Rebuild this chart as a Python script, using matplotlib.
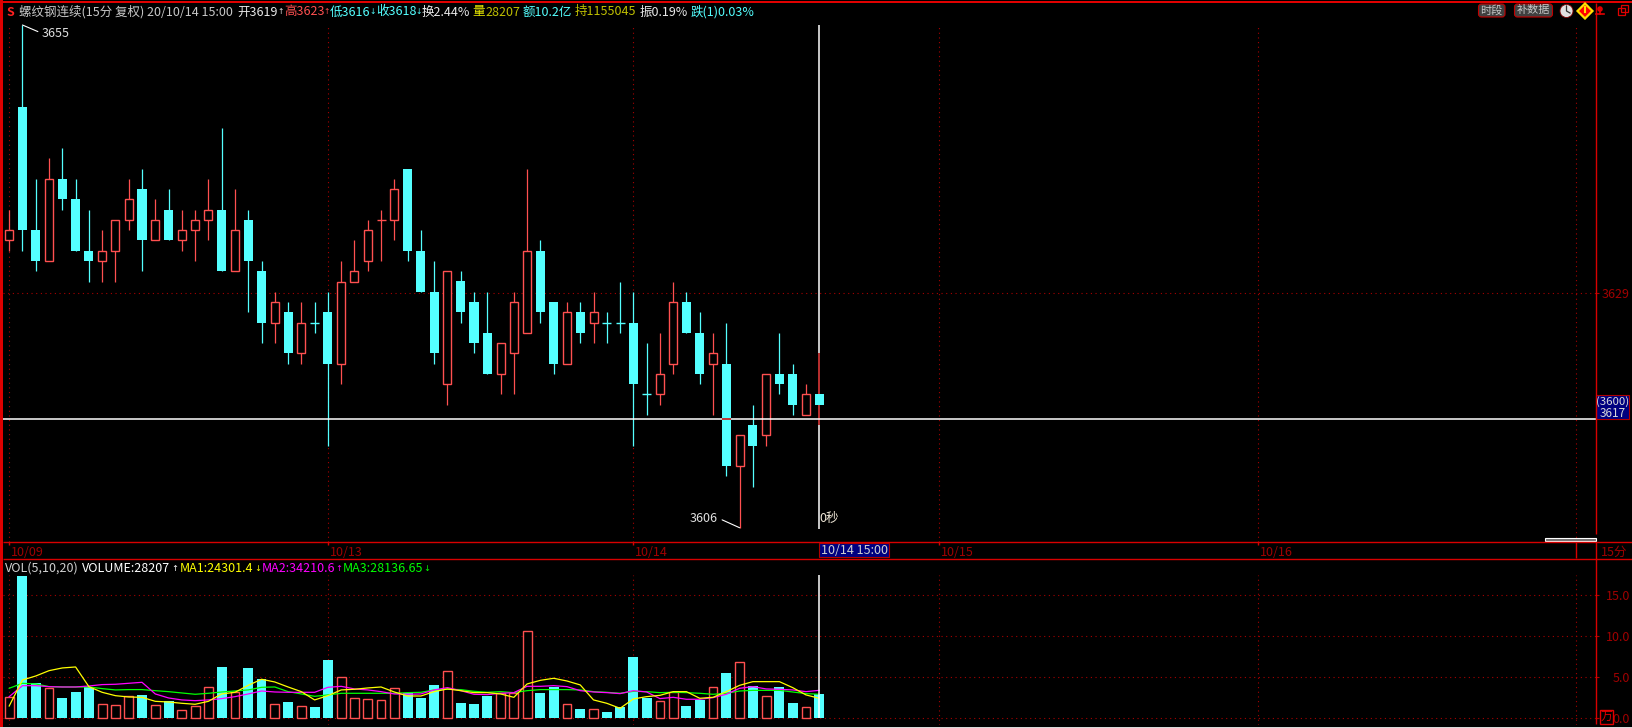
from matplotlib import pyplot as plt
from matplotlib.patches import Rectangle, FancyBboxPatch, Polygon, Circle

# candles, oldest first
opens = [3634, 3647, 3635, 3632, 3640, 3638, 3633, 3632, 3633, 3636,
         3639, 3634, 3637, 3634, 3635, 3636, 3637, 3631, 3636, 3631,
         3626, 3627, 3623, 3626, 3627, 3622, 3630, 3632, 3636, 3636,
         3641, 3633, 3629, 3620, 3630, 3628, 3625, 3621, 3623, 3625,
         3633, 3628, 3622, 3627, 3626, 3626, 3626, 3626, 3619, 3619,
         3622, 3628, 3625, 3622, 3622, 3612, 3616, 3615, 3621, 3621,
         3617, 3619]
closes = [3635, 3635, 3632, 3640, 3638, 3633, 3632, 3633, 3636, 3638,
          3634, 3636, 3634, 3635, 3636, 3637, 3631, 3635, 3632, 3626,
          3628, 3623, 3626, 3626, 3622, 3630, 3631, 3635, 3636, 3639,
          3633, 3629, 3623, 3631, 3627, 3624, 3621, 3624, 3628, 3633,
          3627, 3622, 3627, 3625, 3627, 3626, 3626, 3620, 3619, 3621,
          3628, 3625, 3621, 3623, 3612, 3615, 3614, 3621, 3620, 3618,
          3619, 3618]
highs = [3637, 3655, 3640, 3642, 3643, 3640, 3637, 3635, 3636, 3640,
         3641, 3638, 3639, 3637, 3637, 3640, 3645, 3639, 3637, 3632,
         3629, 3628, 3628, 3628, 3629, 3632, 3634, 3636, 3637, 3640,
         3641, 3635, 3632, 3631, 3631, 3629, 3629, 3624, 3629, 3641,
         3634, 3628, 3628, 3628, 3629, 3627, 3630, 3629, 3624, 3625,
         3630, 3629, 3627, 3625, 3626, 3615, 3618, 3621, 3625, 3622,
         3620, 3623]
lows = [3633, 3633, 3631, 3632, 3637, 3633, 3630, 3630, 3630, 3635,
        3631, 3634, 3634, 3633, 3632, 3634, 3631, 3631, 3627, 3624,
        3624, 3622, 3622, 3625, 3614, 3620, 3630, 3631, 3632, 3634,
        3632, 3629, 3622, 3618, 3626, 3623, 3621, 3619, 3619, 3625,
        3626, 3621, 3622, 3624, 3624, 3624, 3625, 3614, 3617, 3618,
        3621, 3625, 3620, 3617, 3611, 3606, 3610, 3614, 3619, 3617,
        3617, 3616]
red_doji = [28]  # the only flat candle drawn red

# volume in units of 10k
volume = [2.56, 17.36, 4.27, 3.66, 2.48, 3.2, 3.86, 1.7, 1.6, 2.7,
          2.85, 1.6, 2.07, 1.0, 1.5, 3.8, 6.26, 3.17, 6.14, 4.76,
          1.7, 2.0, 1.46, 1.38, 7.1, 5.0, 2.44, 2.3, 2.2, 3.66,
          3.05, 2.48, 4.07, 5.73, 1.87, 1.75, 2.72, 3.13, 3.13, 10.6,
          3.09, 3.82, 1.7, 1.14, 1.1, 0.77, 1.38, 7.48, 2.48, 2.07,
          3.25, 1.5, 2.24, 3.78, 5.53, 6.83, 3.94, 2.68, 3.82, 1.87,
          1.34, 2.95]
ma1 = [1.5, 4.67, 5.16, 5.81, 6.14, 6.26, 3.86, 3.17, 2.76, 2.6,
       2.56, 2.07, 1.99, 1.83, 1.71, 2.07, 2.97, 3.17, 4.02, 4.76,
       4.43, 3.82, 3.25, 2.24, 2.76, 3.46, 3.54, 3.7, 3.82, 3.21,
       2.72, 2.72, 3.25, 3.58, 3.37, 3.13, 3.13, 2.97, 2.56, 4.19,
       4.63, 4.88, 4.55, 4.07, 2.24, 1.83, 1.22, 2.36, 2.64, 2.8,
       3.25, 3.25, 2.44, 2.56, 3.25, 4.02, 4.47, 4.47, 4.47, 3.74,
       2.85, 2.44]
ma2 = [2.64, 3.98, 3.98, 3.86, 3.82, 3.82, 3.94, 4.11, 4.15, 4.27,
       4.39, 2.97, 2.48, 2.24, 2.15, 2.24, 2.4, 2.64, 2.97, 3.33,
       3.21, 3.17, 3.17, 3.17, 3.78, 3.9, 3.58, 3.46, 3.25, 2.97,
       2.93, 2.97, 3.46, 3.74, 3.37, 2.93, 2.89, 3.05, 3.13, 3.9,
       3.9, 3.98, 3.86, 3.37, 3.21, 3.13, 3.01, 3.37, 3.21, 2.4,
       2.56, 2.32, 2.32, 2.52, 2.93, 3.66, 3.86, 3.58, 3.54, 3.46,
       3.25, 3.41]
ma3 = [3.66, 4.27, 4.19, 3.86, 3.82, 3.82, 3.82, 3.62, 3.46, 3.5,
       3.5, 3.37, 3.25, 3.09, 2.93, 3.05, 3.21, 3.33, 3.46, 3.78,
       3.82, 3.25, 2.97, 2.68, 2.85, 3.05, 3.05, 3.05, 3.05, 3.05,
       3.13, 3.17, 3.46, 3.54, 3.5, 3.29, 3.17, 3.25, 3.13, 3.37,
       3.5, 3.5, 3.5, 3.46, 3.25, 3.17, 3.05, 3.29, 3.25, 3.13,
       3.17, 3.13, 3.05, 2.93, 3.05, 3.33, 3.41, 3.41, 3.41, 3.21,
       3.01, 2.93]

# date axis: candle index of each session start
date_idx = [0, 24, 47, 70, 94]
date_labels = ['10/09', '10/13', '10/14', '10/15', '10/16']
extra_grid_idx = [118]

W, H = 1633, 728
RED = '#ff5050'
CYAN = '#54ffff'
LINE = '#d80000'
GRID = '#a80000'
DARK = '#a00000'
FONT = ['Noto Sans CJK SC', 'DejaVu Sans']
plt.rcParams['font.family'] = FONT
DOT = (0, (1, 3.2))

STEP = 13.28   # px per candle
X0 = 9.2       # px of first candle
LEFT, RIGHT = 3, 1596.3
PX_PRICE = 10.26
Y_HIGH = 25    # px row of 3655
PRICE_BOTTOM = 3655 - (542 - Y_HIGH) / PX_PRICE

fig = plt.figure(figsize=(W / 100, H / 100), dpi=100, facecolor='black')


def panel(top, bottom):
    ax = fig.add_axes([LEFT / W, 1 - bottom / H, (RIGHT - LEFT) / W, (bottom - top) / H])
    ax.set_facecolor('black')
    ax.set_xlim((LEFT - X0) / STEP, (RIGHT - X0) / STEP)
    for s in ax.spines.values():
        s.set_visible(False)
    ax.set_xticks([])
    ax.yaxis.tick_right()
    ax.tick_params(axis='y', length=2.5, width=0.8, color=GRID, labelcolor=DARK,
                   labelsize=9, pad=21.7)
    return ax


# price panel
ax = panel(4, 542)
ax.set_ylim(PRICE_BOTTOM, 3655 + (Y_HIGH - 4) / PX_PRICE)
ax.set_yticks([3628.85])
ax.set_yticklabels(['3629'], ha='right')
ax.axhline(3628.85, color=GRID, lw=0.8, ls=DOT, zorder=1)
ax.vlines(date_idx + extra_grid_idx, PRICE_BOTTOM, 3655, color=GRID, lw=0.8, ls=DOT, zorder=1)

x = list(range(len(opens)))
up = [c > o or i in red_doji for i, (o, c) in enumerate(zip(opens, closes))]
colors = [RED if u else CYAN for u in up]

# cursor
ax.vlines(x[-1], 3605.9, 3655, color='white', lw=1.1, zorder=2)
ax.vlines(x[:-1], lows[:-1], highs[:-1], color=colors[:-1], lw=0.9, zorder=3)
ax.vlines(x[-1], lows[-1], highs[-1], color='#b00000', lw=1.1, zorder=3)
for i in x:
    bot = min(opens[i], closes[i])
    h = abs(closes[i] - opens[i])
    if h == 0:
        ax.hlines(opens[i], i - 0.34, i + 0.34, color=colors[i], lw=1.0, zorder=4)
    elif up[i]:
        ax.bar(i, h, bottom=bot, width=0.6, facecolor='black', edgecolor=RED, lw=1.0, zorder=4)
    else:
        ax.bar(i, h, bottom=bot, width=0.68, facecolor=CYAN, edgecolor='none', zorder=4)
ax.axhline(3616.57, color='white', lw=1.1, zorder=5)
ax.hlines(3616.57, 54 - 0.34, 54 + 0.34, color='#b00000', lw=1.1, zorder=6)

ax.annotate('3655', xy=(1, 3655), xytext=(14, -6), textcoords='offset points', color='#e0e0e0',
            fontsize=9, va='center',
            arrowprops=dict(arrowstyle='-', color='white', lw=0.8, shrinkA=1, shrinkB=0, relpos=(0, 0.5)))
ax.annotate('3606', xy=(55, 3606), xytext=(-15.5, 7), textcoords='offset points', color='#e0e0e0',
            fontsize=9, va='center', ha='right',
            arrowprops=dict(arrowstyle='-', color='white', lw=0.8, shrinkA=1, shrinkB=0, relpos=(1, 0.5)))
ax.annotate('0秒', xy=(61, 3606), xytext=(0, 7), textcoords='offset points', color='#f0e8d8',
            fontsize=9, va='center', ha='left')

# volume panel
ax2 = panel(559, 725)
ax2.set_ylim(-(725 - 718.3) / 8.2, (718.3 - 559) / 8.2)
ax2.set_yticks([0, 5, 10, 15])
ax2.set_yticklabels(['0.0', '5.0', '10.0', '15.0'], ha='right')
for v in [0, 5, 10, 15]:
    ax2.axhline(v, color=GRID, lw=0.8, ls=DOT, zorder=1)
ax2.vlines(date_idx + extra_grid_idx, -0.8, 17.5, color=GRID, lw=0.8, ls=DOT, zorder=1)
for i in x:
    if up[i]:
        ax2.bar(i, volume[i], width=0.66, facecolor='black', edgecolor=RED, lw=1.0, zorder=2)
    else:
        ax2.bar(i, volume[i], width=0.75, facecolor=CYAN, edgecolor='none', zorder=2)
ax2.plot(x, ma3, color='#00ff00', lw=0.9, zorder=3)
ax2.plot(x, ma2, color='#ff00ff', lw=0.9, zorder=4)
ax2.plot(x, ma1, color='#ffff00', lw=0.9, zorder=5)
ax2.vlines(x[-1], 0, 17.5, color='white', lw=1.1, zorder=6)

# chrome in pixel coordinates
ov = fig.add_axes([0, 0, 1, 1], facecolor='none')
ov.set_xlim(0, W)
ov.set_ylim(H, 0)
ov.axis('off')

ov.add_patch(Rectangle((0, 0), 3, 728, color='#e00000', lw=0))
ov.add_patch(Rectangle((0, 1), W, 2, color='#e00000', lw=0))
ov.add_patch(Rectangle((0, 727), W, 1, color='#d8d8d8', lw=0))
ov.hlines([542.3, 559.3], 3, W, color=LINE, lw=1)
ov.vlines(RIGHT, 3, 534, color=LINE, lw=1)
ov.vlines(RIGHT, 542, 724, color=LINE, lw=1)
for i in date_idx + extra_grid_idx:
    px = X0 + i * STEP
    ov.vlines(px, 542, 558 if i in extra_grid_idx else 545, color=LINE, lw=1)
for i, lab in zip(date_idx, date_labels):
    ov.text(X0 + i * STEP + 2, 553, lab, color=DARK, fontsize=9, va='center')

# cursor date box
ov.add_patch(Rectangle((819.5, 543), 70, 14, facecolor='#000080', edgecolor='#b00000', lw=0.8))
ov.text(854.5, 550.5, '10/14 15:00', color='#d0d0d0', fontsize=9, ha='center', va='center')

# right labels
ov.add_patch(Rectangle((1596.5, 395), 33, 24, facecolor='#000080', edgecolor='#b00000', lw=0.8))
ov.text(1613, 401.5, '(3600)', color='#d8d8d8', fontsize=8.2, ha='center', va='center')
ov.text(1613, 413.5, '3617', color='#d8d8d8', fontsize=8.5, ha='center', va='center')
ov.text(1601, 552, '15分', color=DARK, fontsize=9, va='center')
ov.add_patch(Rectangle((1600, 709.5), 13, 14.5, facecolor='black', edgecolor='#e00000', lw=1, zorder=5))
ov.text(1606.5, 716.5, '万', color='#e00000', fontsize=8.5, ha='center', va='center', zorder=6)

# scrollbar
ov.add_patch(Rectangle((1545, 538), 51, 3, facecolor='#707070', edgecolor='white', lw=0.8))

# header
header = [(19, '螺纹钢连续(15分 复权)', '#c8c8c8'), (147, '20/10/14 15:00', '#c8c8c8'),
          (237, '开3619', '#e8e8e8'), (284, '高3623', '#ff5050'),
          (330, '低3616', CYAN), (376, '收3618', CYAN), (422, '换2.44%', '#e8e8e8'),
          (472, '量', '#e8e800'), (485, '28207', '#c0c000'), (523, '额10.2亿', CYAN),
          (575, '持1155045', '#c0c000'), (640, '振0.19%', '#e8e8e8'), (691, '跌(1)0.03%', CYAN)]
for px, s, c in header:
    ov.text(px, 12, s, color=c, fontsize=9, va='center')
header_arrows = [(280.5, '↑', '#e8e8e8'), (326.8, '↑', '#ff5050'), (373, '↓', CYAN), (419, '↓', CYAN)]
for px, s, c in header_arrows:
    ov.text(px, 12, s, color=c, fontsize=5.5, ha='center', va='center', family='DejaVu Sans')
ov.text(10.5, 13, 'S', color='#ff2020', fontsize=9, ha='center', va='center', fontweight='bold')

vol_header = [(5, 'VOL(5,10,20)', '#d0d0d0'), (82, 'VOLUME:28207', 'white'),
              (180, 'MA1:24301.4', '#ffff00'), (262, 'MA2:34210.6', '#ff00ff'),
              (343, 'MA3:28136.65', '#00ff00')]
for px, s, c in vol_header:
    ov.text(px, 568.5, s, color=c, fontsize=9, va='center')
vol_arrows = [(175, '↑', 'white'), (258, '↓', '#ffff00'), (339, '↑', '#ff00ff'), (427, '↓', '#00ff00')]
for px, s, c in vol_arrows:
    ov.text(px, 568.5, s, color=c, fontsize=6, ha='center', va='center', family='DejaVu Sans')

# top-right buttons and icons
for bx, bw, lab in [(1478.5, 26.5, '时段'), (1514.5, 38, '补数据')]:
    ov.add_patch(FancyBboxPatch((bx + 3, 7), bw - 6, 7, boxstyle='round,pad=3', facecolor='#404040',
                                edgecolor='#c00000', lw=0.8))
    ov.text(bx + bw / 2, 10.5, lab, color='#c8c8c8', fontsize=8, ha='center', va='center')
ov.add_patch(Circle((1566.5, 11), 6.5, facecolor='#e0e0e0', edgecolor='#800000', lw=0.6))
ov.plot([1566.5, 1566.5, 1570], [6, 11, 13], color='#303030', lw=0.9)
ov.add_patch(Polygon([(1585, 3.5), (1592.5, 11), (1585, 18.5), (1577.5, 11)], facecolor='#ff0000',
                     edgecolor='#ffe000', lw=1.6))
ov.plot([1585, 1585], [7, 12], color='#ffe000', lw=1.5)
ov.add_patch(Circle((1600, 9), 2.8, facecolor='#e00000', edgecolor='none'))
ov.plot([1600, 1600], [9, 14], color='#e00000', lw=1.2)
ov.plot([1596, 1604], [14, 14], color='#e00000', lw=1.2)
ov.add_patch(Rectangle((1618, 8), 7, 7, facecolor='none', edgecolor='#e00000', lw=0.9))
ov.add_patch(Rectangle((1621, 5), 7, 7, facecolor='none', edgecolor='#e00000', lw=0.9))

fig.savefig('out.png', dpi=100, facecolor='black')
